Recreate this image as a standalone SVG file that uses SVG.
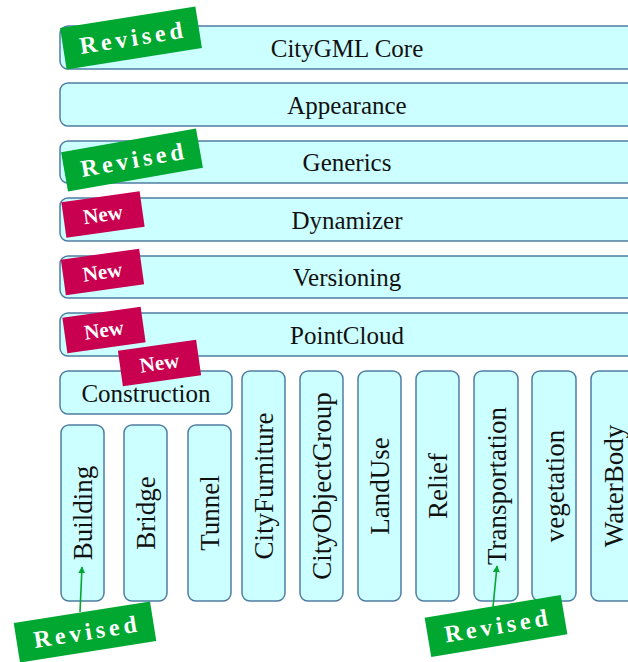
<svg xmlns="http://www.w3.org/2000/svg" width="628" height="662" viewBox="0 0 628 662">
<defs>
<style>
.box{fill:#CCFFFF;stroke:#4F7EA2;stroke-width:1.5}
text{font-family:'Liberation Serif','Times New Roman','DejaVu Serif',serif}
.lbl{font-size:25px;fill:#111;text-anchor:middle}
.vl{font-size:27px;fill:#111;text-anchor:middle}
.rev{fill:#00A832}
.new{fill:#C9004F}
.rt{font-size:24px;font-weight:bold;fill:#fff;text-anchor:middle;letter-spacing:4px}
.nt{font-size:21px;font-weight:bold;fill:#fff;text-anchor:middle}
.arr{stroke:#00A832;stroke-width:1.6;fill:none}
</style>
<marker id="ah" viewBox="0 0 10 10" refX="9" refY="5" markerWidth="7" markerHeight="7" orient="auto" markerUnits="userSpaceOnUse">
<path d="M0,0 L10,5 L0,10 z" fill="#00A832"/>
</marker>
</defs>
<rect width="628" height="662" fill="#fff"/>

<g id="core"><rect class="box" x="60" y="26" width="580" height="43" rx="8"/><text class="lbl" x="347" y="57" font-family="Liberation Serif, serif">CityGML Core</text></g>
<g id="appearance"><rect class="box" x="60" y="83" width="580" height="43" rx="8"/><text class="lbl" x="347" y="114">Appearance</text></g>
<g id="generics"><rect class="box" x="60" y="141" width="580" height="42" rx="8"/><text class="lbl" x="347" y="171">Generics</text></g>
<g id="dynamizer"><rect class="box" x="60" y="198" width="580" height="43" rx="8"/><text class="lbl" x="347" y="229">Dynamizer</text></g>
<g id="versioning"><rect class="box" x="60" y="256" width="580" height="42" rx="8"/><text class="lbl" x="347" y="286">Versioning</text></g>
<g id="pointcloud"><rect class="box" x="60" y="313" width="580" height="43" rx="8"/><text class="lbl" x="347" y="344">PointCloud</text></g>
<g id="construction"><rect class="box" x="60" y="371" width="172" height="43" rx="8"/><text class="lbl" x="146" y="402">Construction</text></g>

<g id="building"><rect class="box" x="61" y="425" width="43" height="176" rx="8"/><text class="vl" transform="translate(92,513) rotate(-90)">Building</text></g>
<g id="bridge"><rect class="box" x="124" y="425" width="43" height="176" rx="8"/><text class="vl" transform="translate(155,513) rotate(-90)">Bridge</text></g>
<g id="tunnel"><rect class="box" x="188" y="425" width="43" height="176" rx="8"/><text class="vl" transform="translate(219,513) rotate(-90)">Tunnel</text></g>
<g id="cityfurniture"><rect class="box" x="242" y="371" width="43" height="230" rx="8"/><text class="vl" transform="translate(273,486) rotate(-90)">CityFurniture</text></g>
<g id="cityobjectgroup"><rect class="box" x="300" y="371" width="43" height="230" rx="8"/><text class="vl" transform="translate(331,486) rotate(-90)">CityObjectGroup</text></g>
<g id="landuse"><rect class="box" x="358" y="371" width="43" height="230" rx="8"/><text class="vl" transform="translate(389,486) rotate(-90)">LandUse</text></g>
<g id="relief"><rect class="box" x="416" y="371" width="43" height="230" rx="8"/><text class="vl" transform="translate(447,486) rotate(-90)">Relief</text></g>
<g id="transportation"><rect class="box" x="474" y="371" width="44" height="230" rx="8"/><text class="vl" transform="translate(506,486) rotate(-90)">Transportation</text></g>
<g id="vegetation"><rect class="box" x="532" y="371" width="44" height="230" rx="8"/><text class="vl" transform="translate(564,486) rotate(-90)">vegetation</text></g>
<g id="waterbody"><rect class="box" x="591" y="371" width="44" height="230" rx="8"/><text class="vl" transform="translate(623,486) rotate(-90)">WaterBody</text></g>

<g id="connectors">
<line class="arr" x1="80" y1="612" x2="82" y2="567" marker-end="url(#ah)"/>
<line class="arr" x1="493" y1="607" x2="497" y2="566" marker-end="url(#ah)"/>
</g>

<g id="badge-core" transform="translate(131,38) rotate(-9)"><rect class="rev" x="-68.5" y="-21" width="137" height="42"/><text class="rt" x="2" y="8">Revised</text></g>
<g id="badge-generics" transform="translate(132,160) rotate(-10)"><rect class="rev" x="-68.5" y="-20" width="137" height="40"/><text class="rt" x="2" y="8">Revised</text></g>
<g id="badge-dynamizer" transform="translate(103,214.5) rotate(-8)"><rect class="new" x="-39.5" y="-18" width="79" height="36"/><text class="nt" x="0" y="7">New</text></g>
<g id="badge-versioning" transform="translate(102.5,272) rotate(-8)"><rect class="new" x="-39.5" y="-18" width="79" height="36"/><text class="nt" x="0" y="7">New</text></g>
<g id="badge-pointcloud" transform="translate(104,330) rotate(-8)"><rect class="new" x="-39.5" y="-18" width="79" height="36"/><text class="nt" x="0" y="7">New</text></g>
<g id="badge-construction" transform="translate(159.5,363) rotate(-8)"><rect class="new" x="-39.5" y="-18" width="79" height="36"/><text class="nt" x="0" y="7">New</text></g>
<g id="badge-building" transform="translate(85,632) rotate(-9)"><rect class="rev" x="-69" y="-20" width="138" height="40"/><text class="rt" x="2" y="8">Revised</text></g>
<g id="badge-transportation" transform="translate(496,626) rotate(-9.5)"><rect class="rev" x="-69" y="-20" width="138" height="40"/><text class="rt" x="2" y="8">Revised</text></g>
</svg>
